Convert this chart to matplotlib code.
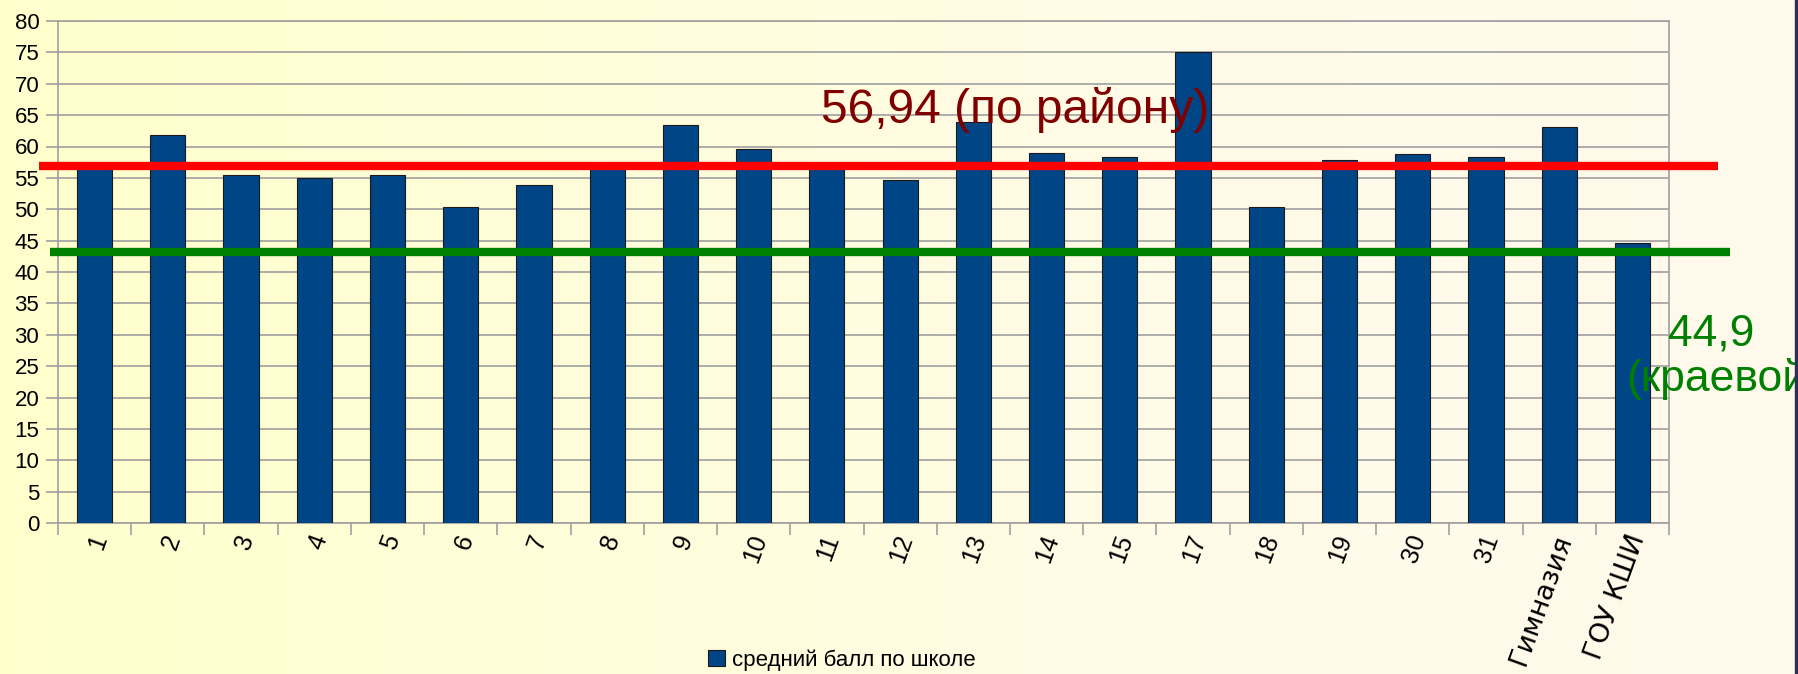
import numpy as np
import matplotlib
matplotlib.use("Agg")
import matplotlib.pyplot as plt
import matplotlib.transforms as mtransforms
from matplotlib.colors import LinearSegmentedColormap
from matplotlib.patches import Patch, Rectangle

plt.rcParams['font.family'] = ['Liberation Sans', 'DejaVu Sans']

# данные
schools = ["1", "2", "3", "4", "5", "6", "7", "8", "9", "10", "11", "12", "13",
           "14", "15", "17", "18", "19", "30", "31", "Гимназия", "ГОУ КШИ"]
scores = [56.8, 61.9, 55.4, 55.0, 55.4, 50.3, 53.9, 56.9, 63.4, 59.6, 56.6, 54.7,
          63.9, 58.9, 58.4, 75.0, 50.3, 57.9, 58.8, 58.4, 63.1, 44.6]
district_avg = 56.94
region_line = 43.2
region_label = "44,9"

W, H = 1798, 674
fig = plt.figure(figsize=(W / 100, H / 100), dpi=100)

# фон слайда: лёгкий градиент слева направо
bg = fig.add_axes([0, 0, 1, 1], zorder=-10)
cmap = LinearSegmentedColormap.from_list("bg", ["#FFFFCC", "#FFFDDA", "#FFFBE8", "#FFF9EC"])
bg.imshow(np.linspace(0, 1, 256)[None, :], aspect="auto", cmap=cmap, extent=[0, 1, 0, 1])
bg.set_axis_off()
fig.patches.append(Rectangle((1795 / W, 0), 3 / W, 1, transform=fig.transFigure,
                             color="#2E2E5E", zorder=5))

ax = fig.add_axes([58 / W, 1 - 523 / H, (1669 - 58) / W, (523 - 21) / H])
ax.set_facecolor("none")

x = np.arange(len(schools))
ax.bar(x, scores, width=0.48, color="#004586", edgecolor="#1a1a1a", linewidth=0.8,
       zorder=3, label="средний балл по школе")

ax.set_xlim(-0.5, len(schools) - 0.5)
ax.set_ylim(0, 80)
ax.set_yticks(np.arange(0, 81, 5))
ax.grid(axis="y", color="#A0A0A0", linewidth=1.2, zorder=1)
for s in ax.spines.values():
    s.set_color("#A0A0A0")
    s.set_linewidth(1.2)

ax.tick_params(axis="y", length=8.5, color="#A0A0A0", width=1.2, pad=5, labelsize=16)
ax.set_xticks(x)
ax.set_xticklabels(schools, rotation=70, ha="right", va="center",
                   rotation_mode="anchor", fontsize=18)
ax.tick_params(axis="x", which="major", length=0, pad=9)
ax.set_xticks(np.arange(-0.5, len(schools), 1), minor=True)
ax.tick_params(axis="x", which="minor", length=8.5, color="#A0A0A0", width=1.2)
offset = mtransforms.ScaledTranslation(6 / 100, 0, fig.dpi_scale_trans)
for lab in ax.get_xticklabels():
    lab.set_transform(lab.get_transform() + offset)
    if not lab.get_text().isdigit():
        lab.set_fontfamily("DejaVu Sans")
        lab.set_fontsize(19.5)

# линии среднего
ax.plot([-0.76, 22.17], [district_avg, district_avg], color="#FF0000", linewidth=6,
        clip_on=False, zorder=4, solid_capstyle="butt")
ax.plot([-0.61, 22.33], [region_line, region_line], color="#008000", linewidth=6,
        clip_on=False, zorder=4, solid_capstyle="butt")

fig.text(821 / W, 1 - 110 / H, "56,94 (по району)", color="#800000", fontsize=34.5,
         ha="left", va="center")
fig.text(1711 / W, 1 - 334 / H, region_label, color="#008000", fontsize=32,
         ha="center", va="center")
fig.text(1626 / W, 1 - 379 / H, "(краевой)", color="#008000", fontsize=32,
         ha="left", va="center")

handle = Patch(facecolor="#004586", edgecolor="#1a1a1a", linewidth=0.8)
fig.legend([handle], ["средний балл по школе"], loc="center",
           bbox_to_anchor=(842 / W, 1 - 660 / H), frameon=False, fontsize=16,
           handlelength=0.75, handleheight=0.75, handletextpad=0.35, borderpad=0)

fig.savefig("out.png", dpi=100)
